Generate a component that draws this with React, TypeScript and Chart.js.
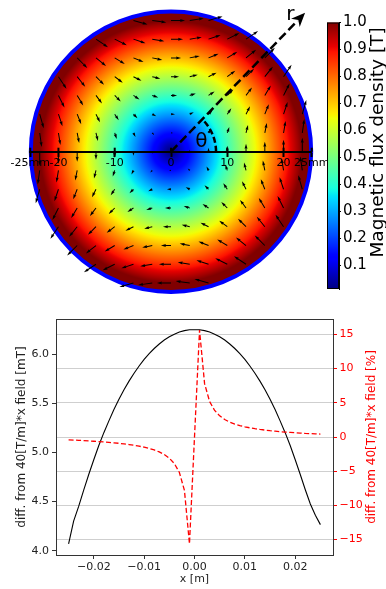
import React, { useEffect, useRef } from 'react';
import { Chart, registerables } from 'chart.js';

Chart.register(...registerables);

const FONT = "'DejaVu Sans', 'Liberation Sans', sans-serif";

// ---------------- Top panel: aperture field map ----------------
const apertureRadiusMm = 25;
const mapAxisTicksMm = [-25, -20, -10, 0, 10, 20, 25];
const mapAxisTickLabels = ['-25mm', '-20', '-10', '0', '10', '20', '25mm'];
// |B|
const radialSamplesMm = [0, 5, 10, 15, 20, 25];
const radialFluxT = [0, 0.215, 0.43, 0.645, 0.86, 1.075];
// quiver grid positions (mm)
const quiverGridMm = [-23.33, -20, -16.67, -13.33, -10, -6.67, -3.33, 0, 3.33, 6.67, 10, 13.33, 16.67, 20, 23.33];
const arrowPxPerTesla = 14;

const rArrowAngleDeg = 46;
const rArrowLengthMm = 34.3;
const thetaArcRadiusMm = 8;
const rLabelMm = { x: 21.2, y: 24.4 };
const thetaLabelMm = { x: 5.4, y: 1.8 };

// colour bar
const colorbarMinT = 0.012;
const colorbarMaxT = 1.0;
const colorbarTicksT = [0.1, 0.2, 0.3, 0.4, 0.5, 0.6, 0.7, 0.8, 0.9, 1.0];
const colorbarTickLabels = ['0.1', '0.2', '0.3', '0.4', '0.5', '0.6', '0.7', '0.8', '0.9', '1.0'];
const colorbarTitle = 'Magnetic flux density [T]';

// jet colormap segment data
const jetRed = [[0, 0], [0.35, 0], [0.66, 1], [0.89, 1], [1, 0.5]];
const jetGreen = [[0, 0], [0.125, 0], [0.375, 1], [0.64, 1], [0.91, 0], [1, 0]];
const jetBlue = [[0, 0.5], [0.11, 1], [0.34, 1], [0.65, 0], [1, 0]];

// ---------------- Bottom panel ----------------
const xPositionsM = [
  -0.025, -0.024, -0.023, -0.022, -0.021, -0.02, -0.019, -0.018, -0.017, -0.016,
  -0.015, -0.014, -0.013, -0.012, -0.011, -0.01, -0.009, -0.008, -0.007, -0.006,
  -0.005, -0.004, -0.003, -0.002, -0.001,
  0.001, 0.002, 0.003, 0.004, 0.005, 0.006, 0.007, 0.008, 0.009, 0.01,
  0.011, 0.012, 0.013, 0.014, 0.015, 0.016, 0.017, 0.018, 0.019, 0.02,
  0.021, 0.022, 0.023, 0.024, 0.025,
];
const diffFieldMt = [
  4.07, 4.30, 4.45, 4.615, 4.775, 4.925, 5.07, 5.20, 5.32, 5.435,
  5.54, 5.636, 5.724, 5.805, 5.878, 5.945, 6.004, 6.056, 6.102, 6.142,
  6.175, 6.202, 6.223, 6.238, 6.247,
  6.247, 6.238, 6.223, 6.202, 6.175, 6.142, 6.102, 6.056, 6.004, 5.945,
  5.878, 5.805, 5.724, 5.636, 5.54, 5.435, 5.32, 5.20, 5.07, 4.925,
  4.775, 4.62, 4.475, 4.36, 4.265,
];
const diffFieldPct = [
  -0.41, -0.45, -0.48, -0.52, -0.57, -0.62, -0.67, -0.72, -0.78, -0.85,
  -0.92, -1.01, -1.10, -1.21, -1.34, -1.49, -1.67, -1.89, -2.18, -2.56,
  -3.09, -3.88, -5.19, -7.80, -15.62,
  15.62, 7.80, 5.19, 3.88, 3.09, 2.56, 2.18, 1.89, 1.67, 1.49,
  1.34, 1.21, 1.10, 1.01, 0.92, 0.85, 0.78, 0.72, 0.67, 0.62,
  0.57, 0.52, 0.49, 0.45, 0.43,
];
const xTicks = [-0.02, -0.01, 0, 0.01, 0.02];
const xTickLabels = ['\u22120.02', '\u22120.01', '0.00', '0.01', '0.02'];
const leftTicks = [4.0, 4.5, 5.0, 5.5, 6.0];
const leftTickLabels = ['4.0', '4.5', '5.0', '5.5', '6.0'];
const rightTicks = [-15, -10, -5, 0, 5, 10, 15];
const rightTickLabels = ['\u221215', '\u221210', '\u22125', '0', '5', '10', '15'];
const leftTitle = 'diff. from 40[T/m]*x field [mT]';
const rightTitle = 'diff. from 40[T/m]*x field [%]';
const xTitle = 'x [m]';

// ---------------- helpers ----------------
function segInterp(seg: number[][], t: number) {
  for (let i = 1; i < seg.length; i++) {
    if (t <= seg[i][0]) {
      const [t0, v0] = seg[i - 1];
      const [t1, v1] = seg[i];
      return v0 + ((v1 - v0) * (t - t0)) / (t1 - t0);
    }
  }
  return seg[seg.length - 1][1];
}
function jetColor(t: number) {
  const c = Math.min(1, Math.max(0, t));
  const r = Math.round(255 * segInterp(jetRed, c));
  const g = Math.round(255 * segInterp(jetGreen, c));
  const b = Math.round(255 * segInterp(jetBlue, c));
  return `rgb(${r},${g},${b})`;
}
function interp(xs: number[], ys: number[], x: number) {
  if (x <= xs[0]) return ys[0];
  for (let i = 1; i < xs.length; i++) {
    if (x <= xs[i]) return ys[i - 1] + ((ys[i] - ys[i - 1]) * (x - xs[i - 1])) / (xs[i] - xs[i - 1]);
  }
  return ys[ys.length - 1];
}
const normT = (v: number) => (v - colorbarMinT) / (colorbarMaxT - colorbarMinT);

function buildQuiver() {
  const pts: { x: number; y: number; u: number; v: number }[] = [];
  for (const gy of quiverGridMm) {
    for (const gx of quiverGridMm) {
      const r = Math.hypot(gx, gy);
      if (r === 0 || r > apertureRadiusMm) continue;
      const b = interp(radialSamplesMm, radialFluxT, r);
      // quadrupole: Bx ~ y, By ~ x
      pts.push({ x: gx, y: gy, u: (b * gy) / r, v: (b * gx) / r });
    }
  }
  return pts;
}

function drawQuiverArrow(ctx: CanvasRenderingContext2D, x0: number, y0: number, dx: number, dy: number) {
  const L = Math.hypot(dx, dy);
  if (L < 0.4) return;
  const w = 1.0;
  let k = 1;
  const hl0 = 5 * w;
  if (L < hl0) k = L / hl0;
  const hl = hl0 * k, ha = 4.5 * w * k, hw = 1.5 * w * k, sw = 0.5 * w * Math.max(k, 0.6);
  ctx.save();
  ctx.translate(x0, y0);
  ctx.rotate(Math.atan2(dy, dx));
  ctx.beginPath();
  ctx.moveTo(0, -sw);
  ctx.lineTo(L - ha, -sw);
  ctx.lineTo(L - hl, -hw);
  ctx.lineTo(L, 0);
  ctx.lineTo(L - hl, hw);
  ctx.lineTo(L - ha, sw);
  ctx.lineTo(0, sw);
  ctx.closePath();
  ctx.fillStyle = '#000';
  ctx.fill();
  ctx.restore();
}

const fieldMapPlugin = {
  id: 'fieldMap',
  beforeDatasetsDraw(chart: any) {
    const { ctx } = chart;
    const xs = chart.scales.x, ys = chart.scales.y;
    const cx = xs.getPixelForValue(0), cy = ys.getPixelForValue(0);
    const R = xs.getPixelForValue(apertureRadiusMm) - cx;
    const grad = ctx.createRadialGradient(cx, cy, 0, cx, cy, R);
    for (let i = 0; i <= 100; i++) {
      const s = i / 100;
      const v = interp(radialSamplesMm, radialFluxT, s * apertureRadiusMm);
      grad.addColorStop(s, jetColor(normT(v)));
    }
    ctx.save();
    ctx.beginPath();
    ctx.arc(cx, cy, R, 0, Math.PI * 2);
    ctx.fillStyle = grad;
    ctx.fill();
    ctx.beginPath();
    ctx.arc(cx, cy, R - 0.5, 0, Math.PI * 2);
    ctx.lineWidth = 4;
    ctx.strokeStyle = '#0000ff';
    ctx.stroke();
    ctx.restore();
  },
  afterDatasetsDraw(chart: any) {
    const { ctx } = chart;
    const xs = chart.scales.x, ys = chart.scales.y;
    const meta = chart.getDatasetMeta(0);
    const raw = chart.data.datasets[0].data;
    meta.data.forEach((el: any, i: number) => {
      const p = raw[i];
      drawQuiverArrow(ctx, el.x, el.y, p.u * arrowPxPerTesla, -p.v * arrowPxPerTesla);
    });
    const cx = xs.getPixelForValue(0), cy = ys.getPixelForValue(0);
    const a = (rArrowAngleDeg * Math.PI) / 180;
    const tipX = xs.getPixelForValue(rArrowLengthMm * Math.cos(a));
    const tipY = ys.getPixelForValue(rArrowLengthMm * Math.sin(a));
    const ang = Math.atan2(tipY - cy, tipX - cx);
    const headLen = 14, headHalf = 6;
    const bx = tipX - headLen * Math.cos(ang), by = tipY - headLen * Math.sin(ang);
    ctx.save();
    ctx.strokeStyle = '#000';
    ctx.lineWidth = 2.5;
    ctx.setLineDash([9, 4]);
    ctx.beginPath();
    ctx.moveTo(cx, cy);
    ctx.lineTo(bx + 3 * Math.cos(ang), by + 3 * Math.sin(ang));
    ctx.stroke();
    // theta arc
    const rTh = xs.getPixelForValue(thetaArcRadiusMm) - cx;
    ctx.setLineDash([6, 3]);
    ctx.beginPath();
    ctx.arc(cx, cy, rTh, 0, ang, true);
    ctx.stroke();
    ctx.setLineDash([]);
    // arrow head
    const px = -Math.sin(ang), py = Math.cos(ang);
    ctx.beginPath();
    ctx.moveTo(tipX, tipY);
    ctx.lineTo(bx + headHalf * px, by + headHalf * py);
    ctx.lineTo(tipX - 0.7 * headLen * Math.cos(ang), tipY - 0.7 * headLen * Math.sin(ang));
    ctx.lineTo(bx - headHalf * px, by - headHalf * py);
    ctx.closePath();
    ctx.fillStyle = '#000';
    ctx.fill();
    // labels
    ctx.font = `20px ${FONT}`;
    ctx.textAlign = 'center';
    ctx.textBaseline = 'middle';
    ctx.fillText('r', xs.getPixelForValue(rLabelMm.x), ys.getPixelForValue(rLabelMm.y));
    ctx.fillText('\u03b8', xs.getPixelForValue(thetaLabelMm.x), ys.getPixelForValue(thetaLabelMm.y));
    ctx.restore();
  },
  afterDraw(chart: any) {
    // upper half of the crossing tick marks on the in-plot axis
    const { ctx } = chart;
    const xs = chart.scales.x, ys = chart.scales.y;
    const cy = ys.getPixelForValue(0);
    ctx.save();
    ctx.strokeStyle = '#000';
    ctx.lineWidth = 2;
    xs.ticks.forEach((t: any) => {
      const px = xs.getPixelForValue(t.value);
      ctx.beginPath();
      ctx.moveTo(px, cy - 4);
      ctx.lineTo(px, cy);
      ctx.stroke();
    });
    ctx.restore();
  },
};

const colorbarPlugin = {
  id: 'colorbarFill',
  beforeDatasetsDraw(chart: any) {
    const { ctx, chartArea } = chart;
    const ys = chart.scales.y;
    const yBot = ys.getPixelForValue(colorbarMinT);
    const yTop = ys.getPixelForValue(colorbarMaxT);
    const grad = ctx.createLinearGradient(0, yBot, 0, yTop);
    for (let i = 0; i <= 100; i++) grad.addColorStop(i / 100, jetColor(i / 100));
    ctx.save();
    ctx.fillStyle = grad;
    ctx.fillRect(chartArea.left, yTop, chartArea.right - chartArea.left, yBot - yTop);
    ctx.strokeStyle = '#000';
    ctx.lineWidth = 1;
    ctx.strokeRect(chartArea.left + 0.5, yTop + 0.5, chartArea.right - chartArea.left - 1, yBot - yTop - 1);
    ctx.restore();
  },
  afterDraw(chart: any) {
    const { ctx } = chart;
    ctx.save();
    ctx.translate(60, 142.5);
    ctx.rotate(-Math.PI / 2);
    ctx.font = `18.5px ${FONT}`;
    ctx.fillStyle = '#000';
    ctx.textAlign = 'center';
    ctx.textBaseline = 'middle';
    ctx.fillText(colorbarTitle, 0, 0);
    ctx.restore();
  },
};

const lowerPlugin = {
  id: 'lowerExtras',
  afterDraw(chart: any) {
    const { ctx, chartArea } = chart;
    ctx.save();
    ctx.strokeStyle = '#333';
    ctx.lineWidth = 1;
    ctx.beginPath();
    ctx.moveTo(chartArea.left, chartArea.top + 0.5);
    ctx.lineTo(chartArea.right, chartArea.top + 0.5);
    ctx.stroke();
    ctx.translate(372, (chartArea.top + chartArea.bottom) / 2);
    ctx.rotate(-Math.PI / 2);
    ctx.font = `12px ${FONT}`;
    ctx.fillStyle = 'red';
    ctx.textAlign = 'center';
    ctx.textBaseline = 'middle';
    ctx.fillText(rightTitle, 0, 0);
    ctx.restore();
  },
};

export default function App() {
  const topRef = useRef<HTMLCanvasElement>(null);
  const cbRef = useRef<HTMLCanvasElement>(null);
  const botRef = useRef<HTMLCanvasElement>(null);

  useEffect(() => {
    Chart.defaults.font.family = FONT;
    Chart.defaults.color = '#000';

    const top = new Chart(topRef.current!, {
      type: 'scatter',
      data: { datasets: [{ data: buildQuiver() as any, pointRadius: 0, pointHoverRadius: 0 }] },
      options: {
        responsive: false,
        animation: false,
        events: [],
        layout: { padding: { left: 30.3, right: 74.3, top: 11, bottom: 7.6 } },
        plugins: { legend: { display: false }, tooltip: { enabled: false } },
        scales: {
          x: {
            type: 'linear',
            min: -apertureRadiusMm,
            max: apertureRadiusMm,
            position: { y: 0 } as any,
            afterBuildTicks: (s: any) => { s.ticks = mapAxisTicksMm.map((v) => ({ value: v })); },
            ticks: {
              z: 2,
              autoSkip: false, maxRotation: 0, minRotation: 0, padding: 1, color: '#000',
              font: { size: 11 },
              callback: (_v: any, i: number) => mapAxisTickLabels[i],
            } as any,
            grid: { z: 2, drawOnChartArea: false, drawTicks: true, tickLength: 4, tickWidth: 2, color: '#000' } as any,
            border: { z: 2, display: true, color: '#000', width: 2 } as any,
          },
          y: { type: 'linear', min: -apertureRadiusMm, max: apertureRadiusMm, display: false },
        },
      },
      plugins: [fieldMapPlugin],
    });

    const cb = new Chart(cbRef.current!, {
      type: 'scatter',
      data: { datasets: [{ data: [] }] },
      options: {
        responsive: false,
        animation: false,
        events: [],
        layout: { padding: { left: 9, top: 22.5, bottom: 2, right: 0 } },
        plugins: { legend: { display: false }, tooltip: { enabled: false } },
        scales: {
          x: { display: false, min: 0, max: 1 },
          y: {
            position: 'right',
            min: colorbarMinT,
            max: colorbarMaxT,
            afterBuildTicks: (s: any) => { s.ticks = colorbarTicksT.map((v) => ({ value: v })); },
            afterFit: (s: any) => { s.width = 47; },
            ticks: { padding: 2, color: '#000', font: { size: 15 }, callback: (_v: any, i: number) => colorbarTickLabels[i] },
            grid: { drawOnChartArea: false, tickLength: 2, color: '#000' },
            border: { display: true, color: '#000', width: 1 },
          },
        },
      },
      plugins: [colorbarPlugin],
    });

    const bot = new Chart(botRef.current!, {
      type: 'line',
      data: {
        datasets: [
          {
            data: xPositionsM.map((x, i) => ({ x, y: diffFieldPct[i] })),
            yAxisID: 'y2',
            borderColor: 'red',
            borderWidth: 1.3,
            borderDash: [5, 2.5],
            pointRadius: 0,
            tension: 0,
            fill: false,
          },
          {
            data: xPositionsM.map((x, i) => ({ x, y: diffFieldMt[i] })),
            yAxisID: 'y',
            borderColor: '#000',
            borderWidth: 1.1,
            pointRadius: 0,
            tension: 0,
            fill: false,
          },
        ],
      },
      options: {
        responsive: false,
        animation: false,
        events: [],
        layout: { padding: { left: 0, right: 0, top: 19, bottom: 0 } },
        plugins: { legend: { display: false }, tooltip: { enabled: false } },
        scales: {
          x: {
            type: 'linear',
            min: -0.0275,
            max: 0.0275,
            afterBuildTicks: (s: any) => { s.ticks = xTicks.map((v) => ({ value: v })); },
            afterFit: (s: any) => { s.height = 34; },
            ticks: { autoSkip: false, maxRotation: 0, padding: 2, color: '#222', font: { size: 11 }, callback: (_v: any, i: number) => xTickLabels[i] },
            grid: { drawOnChartArea: false, tickLength: 4, color: '#333' },
            border: { display: true, color: '#333', width: 1 },
            title: { display: true, text: xTitle, color: '#222', font: { size: 11 }, padding: { top: 0, bottom: 3.4 } },
          },
          y: {
            position: 'left',
            min: 3.956,
            max: 6.356,
            afterBuildTicks: (s: any) => { s.ticks = leftTicks.map((v) => ({ value: v })); },
            afterFit: (s: any) => { s.width = 56; },
            ticks: { padding: 3, color: '#222', font: { size: 11 }, callback: (_v: any, i: number) => leftTickLabels[i] },
            grid: { drawOnChartArea: false, tickLength: 4, color: '#333' },
            border: { display: true, color: '#333', width: 1 },
            title: { display: true, text: leftTitle, color: '#222', font: { size: 12 }, padding: { top: 14.8, bottom: 0 } },
          },
          y2: {
            position: 'right',
            min: -17.25,
            max: 17.25,
            afterBuildTicks: (s: any) => { s.ticks = rightTicks.map((v) => ({ value: v })); },
            afterFit: (s: any) => { s.width = 53; },
            ticks: { padding: 2.5, color: 'red', font: { size: 11 }, callback: (_v: any, i: number) => rightTickLabels[i] },
            grid: { drawOnChartArea: true, color: '#cfcfcf', lineWidth: 1, tickLength: 4, tickColor: 'red' } as any,
            border: { display: true, color: '#333', width: 1 },
          },
        },
      },
      plugins: [lowerPlugin],
    });

    return () => {
      top.destroy();
      cb.destroy();
      bot.destroy();
    };
  }, []);

  return (
    <div style={{ position: 'absolute', left: 0, top: 0, width: 386, height: 589, background: '#fff' }}>
      <canvas ref={topRef} width={386} height={300} style={{ position: 'absolute', left: 0, top: 0 }} />
      <canvas ref={cbRef} width={68} height={300} style={{ position: 'absolute', left: 318, top: 0 }} />
      <canvas ref={botRef} width={386} height={289} style={{ position: 'absolute', left: 0, top: 300 }} />
    </div>
  );
}
